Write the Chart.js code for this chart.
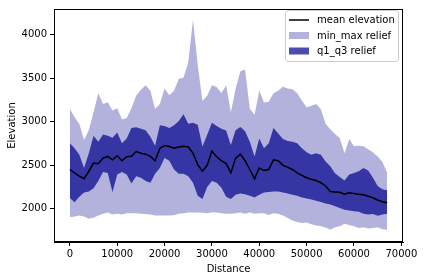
<!DOCTYPE html>
<html>
<head>
<meta charset="utf-8">
<script src="https://cdn.jsdelivr.net/npm/chart.js@4.4.1/dist/chart.umd.min.js"></script>
<style>
  html, body { margin:0; padding:0; background:#fff; }
  #wrap { width:424px; height:280px; }
</style>
</head>
<body>
<div id="wrap"><canvas id="reliefChart" width="424" height="280"></canvas></div>
<script>
// distance along the profile (m)
const distance = [0,1000,2000,3000,4000,5000,6000,7000,8000,9000,
  10000,11000,12000,13000,14000,15000,16000,17000,18000,19000,
  20000,21000,22000,23000,24000,25000,26000,27000,28000,29000,
  30000,31000,32000,33000,34000,35000,36000,37000,38000,39000,
  40000,41000,42000,43000,44000,45000,46000,47000,48000,49000,
  50000,51000,52000,53000,54000,55000,56000,57000,58000,59000,
  60000,61000,62000,63000,64000,65000,66000,67000];

const maxElev = [3147,3053,2978,2790,2906,3110,3328,3204,3223,3129,
  3155,3027,3042,3155,3298,3366,3418,3355,3147,3204,
  3381,3305,3355,3494,3505,3680,4170,3650,3242,3298,
  3420,3400,3330,3420,3110,3380,3580,3600,3150,3080,
  3360,3220,3230,3328,3355,3403,3381,3373,3328,3242,
  3166,3185,3204,3147,2978,2914,2860,2810,2639,2801,
  2718,2726,2718,2684,2647,2602,2538,2413];

const q3Elev = [2752,2696,2621,2470,2639,2839,2771,2854,2839,2816,
  2876,2752,2809,2929,2937,2921,2903,2828,2726,2960,
  2952,2929,2960,3010,3085,2978,2989,2966,2715,2850,
  2989,2952,2921,2900,2734,2903,2940,2892,2771,2602,
  2809,2696,2752,2929,2865,2801,2778,2771,2752,2696,
  2651,2621,2639,2621,2545,2489,2410,2365,2327,2395,
  2413,2432,2470,2440,2357,2263,2226,2214];

const meanElev = [2452,2413,2376,2346,2432,2526,2519,2583,2602,2564,
  2610,2553,2598,2605,2658,2639,2628,2602,2553,2696,
  2726,2715,2696,2711,2718,2711,2640,2508,2432,2500,
  2665,2600,2553,2520,2413,2583,2628,2553,2452,2346,
  2470,2440,2452,2564,2553,2500,2478,2452,2413,2384,
  2357,2339,2327,2300,2263,2199,2195,2190,2169,2184,
  2176,2169,2161,2146,2128,2102,2082,2071];

const q1Elev = [2124,2075,2139,2187,2199,2237,2320,2424,2413,2190,
  2395,2424,2395,2290,2376,2357,2320,2300,2402,2470,
  2583,2553,2452,2402,2402,2376,2300,2150,2113,2250,
  2320,2300,2244,2140,2113,2161,2176,2169,2150,2131,
  2161,2187,2195,2199,2199,2187,2176,2161,2150,2131,
  2120,2109,2094,2079,2063,2049,2030,2010,1989,1981,
  1973,1966,1944,1936,1940,1921,1936,1944];

const minElev = [1905,1913,1924,1913,1887,1898,1924,1944,1958,1936,
  1944,1936,1951,1951,1951,1944,1940,1935,1925,1924,
  1924,1924,1928,1944,1951,1958,1958,1958,1955,1951,
  1962,1958,1951,1944,1944,1951,1958,1944,1958,1944,
  1951,1951,1930,1951,1944,1924,1894,1868,1849,1838,
  1845,1823,1808,1800,1785,1760,1790,1800,1830,1815,
  1800,1780,1790,1775,1780,1790,1765,1760];

const xTicks = [0,10000,20000,30000,40000,50000,60000,70000];
const yTicks = [2000,2500,3000,3500,4000];

const pts = arr => distance.map((d, i) => ({ x: d, y: arr[i] }));

const LIGHT = 'rgba(0,0,139,0.3)';
const DARK = 'rgba(0,0,139,0.7)';

// matplotlib style box + legend drawn on top of the plot
const frameAndLegend = {
  id: 'frameAndLegend',
  afterDraw(chart){
    const ctx = chart.ctx, a = chart.chartArea;
    ctx.save();
    ctx.strokeStyle = '#000'; ctx.lineWidth = 1;
    ctx.strokeRect(Math.round(a.left)+0.5, Math.round(a.top)+0.5, Math.round(a.right-a.left)-1, Math.round(a.bottom-a.top)-1);

    const bx = 285.5, by = 10.5, bw = 113, bh = 51, r = 3;
    ctx.beginPath();
    ctx.moveTo(bx+r, by); ctx.lineTo(bx+bw-r, by); ctx.arcTo(bx+bw, by, bx+bw, by+r, r);
    ctx.lineTo(bx+bw, by+bh-r); ctx.arcTo(bx+bw, by+bh, bx+bw-r, by+bh, r);
    ctx.lineTo(bx+r, by+bh); ctx.arcTo(bx, by+bh, bx, by+bh-r, r);
    ctx.lineTo(bx, by+r); ctx.arcTo(bx, by, bx+r, by, r); ctx.closePath();
    ctx.fillStyle = 'rgba(255,255,255,0.8)'; ctx.fill();
    ctx.strokeStyle = '#cccccc'; ctx.stroke();

    const items = [
      { label:'mean elevation', kind:'line' },
      { label:'min_max relief', kind:LIGHT },
      { label:'q1_q3 relief', kind:DARK }
    ];
    ctx.font = '10px "DejaVu Sans"';
    ctx.textBaseline = 'middle';
    items.forEach((it, i) => {
      const cy = 20 + i*15.5;
      if (it.kind === 'line'){
        ctx.strokeStyle = '#000'; ctx.lineWidth = 1.5;
        ctx.beginPath(); ctx.moveTo(289, cy); ctx.lineTo(309, cy); ctx.stroke();
      } else {
        ctx.fillStyle = it.kind; ctx.fillRect(289, cy-3.5, 20, 7);
      }
      ctx.fillStyle = '#000';
      ctx.fillText(it.label, 317, cy+0.5);
    });
    ctx.restore();
  }
};

new Chart(document.getElementById('reliefChart').getContext('2d'), {
  type: 'line',
  data: {
    datasets: [
      { label:'mean elevation', data:pts(meanElev), borderColor:'#000', borderWidth:1.5, pointRadius:0, fill:false, order:0 },
      { label:'min_max relief', data:pts(maxElev), borderWidth:0, borderColor:'rgba(0,0,0,0)', backgroundColor:LIGHT, pointRadius:0, fill:2, order:2 },
      { label:'min', data:pts(minElev), borderWidth:0, borderColor:'rgba(0,0,0,0)', pointRadius:0, fill:false, order:2 },
      { label:'q1_q3 relief', data:pts(q3Elev), borderWidth:0, borderColor:'rgba(0,0,0,0)', backgroundColor:DARK, pointRadius:0, fill:4, order:1 },
      { label:'q1', data:pts(q1Elev), borderWidth:0, borderColor:'rgba(0,0,0,0)', pointRadius:0, fill:false, order:1 }
    ]
  },
  options: {
    responsive:false,
    animation:false,
    events:[],
    layout:{ padding:{ left:0, right:21, top:6, bottom:0 } },
    plugins:{ legend:{ display:false }, tooltip:{ enabled:false } },
    elements:{ line:{ tension:0 } },
    scales:{
      x:{
        type:'linear', min:-3350, max:70350,
        afterBuildTicks: s => { s.ticks = xTicks.map(v => ({ value:v })); },
        afterFit: s => { s.height = 38; },
        grid:{ drawOnChartArea:false, drawTicks:true, tickLength:4, color:'#000' },
        border:{ color:'#000' },
        ticks:{ color:'#000', padding:2, maxRotation:0, font:{ family:'DejaVu Sans', size:10 }, callback: v => String(v) },
        title:{ display:true, text:'Distance', color:'#000', padding:{ top:0, bottom:5 }, font:{ family:'DejaVu Sans', size:10 } }
      },
      y:{
        min:1620, max:4294,
        afterBuildTicks: s => { s.ticks = yTicks.map(v => ({ value:v })); },
        afterFit: s => { s.width = 54; },
        grid:{ drawOnChartArea:false, drawTicks:true, tickLength:4, color:'#000' },
        border:{ color:'#000' },
        ticks:{ color:'#000', padding:3, font:{ family:'DejaVu Sans', size:10 }, callback: v => String(v) },
        title:{ display:true, text:'Elevation', color:'#000', padding:{ top:6, bottom:0 }, font:{ family:'DejaVu Sans', size:10 } }
      }
    }
  },
  plugins:[frameAndLegend]
});
</script>
</body>
</html>
